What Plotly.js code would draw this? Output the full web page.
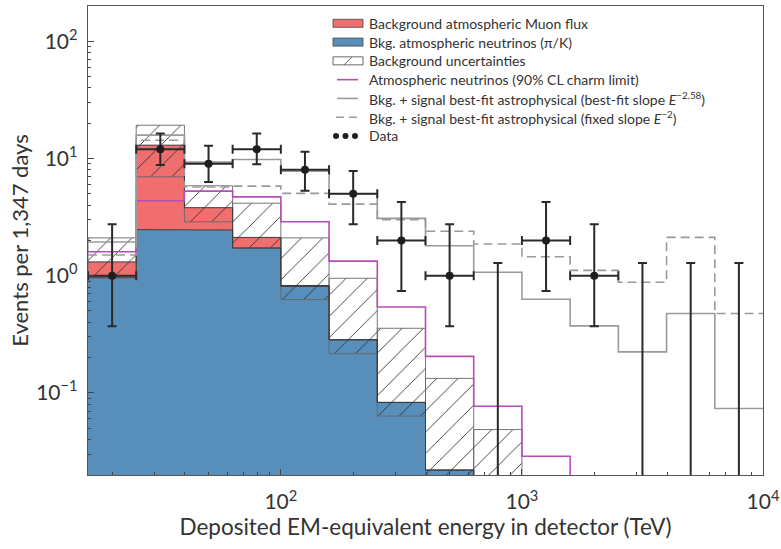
<!DOCTYPE html>
<html>
<head>
<meta charset="utf-8">
<script src="https://cdn.plot.ly/plotly-3.0.1.min.js"></script>
<style>
  html, body { margin: 0; padding: 0; background: #fff; }
  #chart { width: 781px; height: 549px; }
</style>
</head>
<body>
<div id="chart"></div>
<script>
// Energy bins, log10(E / TeV) edges
const logEdges = [1.2, 1.4, 1.6, 1.8, 2.0, 2.2, 2.4, 2.6, 2.8, 3.0, 3.2, 3.4, 3.6, 3.8, 4.0];

// Observed events per bin and their 68% confidence intervals
const observed = [1, 12, 9, 12, 8, 5, 2, 1, 0, 2, 1, 0, 0, 0];
const ciLow    = [0.37, 8.8, 6.3, 8.9, 5.3, 2.75, 0.74, 0.37, 0, 0.74, 0.37, 0, 0, 0];
const ciHigh   = [2.75, 16.3, 12.8, 16.3, 11.4, 7.8, 4.25, 2.75, 1.28, 4.25, 2.75, 1.28, 1.28, 1.28];

// Background expectations (events per bin)
const nuPiK  = [0.96, 2.47, 2.45, 1.72, 0.81, 0.284, 0.083, 0.022, null, null, null, null, null, null];
const muon   = [0.35, 10.5, 1.35, 0.40, 0.015, 0, 0, 0, 0, 0, 0, 0, 0, 0];
const uncLow  = [0.99, 6.97, 2.88, 1.73, 0.626, 0.216, 0.0635, 0.012, 0.006, null, null, null, null, null];
const uncHigh = [2.10, 19.2, 5.84, 4.15, 2.10, 0.95, 0.356, 0.133, 0.0487, null, null, null, null, null];

// Atmospheric neutrinos at the 90% CL charm limit
const charmLimit = [1.60, 4.35, 5.26, 4.70, 2.88, 1.33, 0.54, 0.205, 0.077, 0.0288, null, null, null, null];
// Background + astrophysical signal, best-fit slope E^-2.58
const fitBest  = [1.94, 15.8, 9.3, 9.8, 7.8, 5.0, 3.08, 1.80, 1.07, 0.63, 0.373, 0.224, 0.476, 0.0736];
// Background + astrophysical signal, fixed slope E^-2
const fitFixed = [1.50, 14.3, 5.7, 5.8, 5.03, 4.08, 3.0, 2.39, 1.86, 1.45, 1.11, 0.88, 2.12, 0.476];

const legendLabels = [
  'Background atmospheric Muon flux',
  'Bkg. atmospheric neutrinos (π/K)',
  'Background uncertainties',
  'Atmospheric neutrinos (90% CL charm limit)',
  'Bkg. + signal best-fit astrophysical (best-fit slope <i>E</i><sup>−2.58</sup>)',
  'Bkg. + signal best-fit astrophysical (fixed slope <i>E</i><sup>−2</sup>)',
  'Data'
];

// ---- styling ----
const FONT = 'Lato, "Open Sans", "DejaVu Sans", sans-serif';
const TEXT = '#333333';
const RED = '#F06E6E', BLUE = '#588EBA', PURPLE = '#B54DB8', GRAY = '#9A9A9A';
const EDGE = '#3a3a3a';

const W = 781, H = 549;
const M = {l: 88, r: 18, t: 6, b: 74};
const PW = W - M.l - M.r, PH = H - M.t - M.b;
const px = x => (x - M.l) / PW;
const py = y => (H - M.b - y) / PH;

const FLOOR = 1e-3; // below the visible y range, used to close fills

const edgesE = logEdges.map(l => Math.pow(10, l));
const centersE = logEdges.slice(0, -1).map((l, i) => Math.pow(10, (l + logEdges[i + 1]) / 2));

function stepPath(vals) {
  const xs = [], ys = [];
  vals.forEach((v, i) => {
    const val = (v == null || v <= 0) ? FLOOR : v;
    xs.push(edgesE[i], edgesE[i + 1]);
    ys.push(val, val);
  });
  return {x: xs, y: ys};
}
function bandPath(lower, upper) {
  const top = stepPath(upper), bot = stepPath(lower);
  return {x: top.x.concat(bot.x.slice().reverse()), y: top.y.concat(bot.y.slice().reverse())};
}

const total = nuPiK.map((v, i) => (v == null ? null : v + muon[i]));
const floorArr = nuPiK.map(() => FLOOR);

const traces = [];

// neutrino background fill
const bluePath = bandPath(floorArr, nuPiK);
traces.push({x: bluePath.x, y: bluePath.y, mode: 'lines', fill: 'toself',
  fillcolor: BLUE, line: {width: 0}, hoverinfo: 'skip', showlegend: false});

// muon background fill stacked on the neutrinos
const redPath = bandPath(nuPiK, total);
traces.push({x: redPath.x, y: redPath.y, mode: 'lines', fill: 'toself',
  fillcolor: RED, line: {width: 0}, hoverinfo: 'skip', showlegend: false});

// background uncertainty boxes, hatched
const hx = [], hy = [];
uncLow.forEach((lo, i) => {
  const hi = uncHigh[i];
  if (hi == null) return;
  const a = edgesE[i], b = edgesE[i + 1];
  hx.push(a, b, b, a, a, null);
  hy.push(lo, lo, hi, hi, lo, null);
});
traces.push({x: hx, y: hy, mode: 'lines', fill: 'toself',
  fillcolor: 'rgba(0,0,0,0)',
  fillpattern: {shape: '/', fgcolor: '#333', bgcolor: 'rgba(0,0,0,0)', size: 15, solidity: 0.06, fillmode: 'replace'},
  line: {color: '#666', width: 0.9}, hoverinfo: 'skip', showlegend: false});

// outlines of the stacked background
const blueTop = stepPath(nuPiK);
traces.push({x: blueTop.x, y: blueTop.y, mode: 'lines', line: {color: EDGE, width: 1}, hoverinfo: 'skip', showlegend: false});
const redTop = stepPath(total);
traces.push({x: redTop.x, y: redTop.y, mode: 'lines', line: {color: EDGE, width: 1}, hoverinfo: 'skip', showlegend: false});

// charm limit
const charm = stepPath(charmLimit);
traces.push({x: charm.x, y: charm.y, mode: 'lines', line: {color: PURPLE, width: 1.6}, hoverinfo: 'skip', showlegend: false});

// best-fit models
const best = stepPath(fitBest);
traces.push({x: best.x, y: best.y, mode: 'lines', line: {color: GRAY, width: 1.6}, hoverinfo: 'skip', showlegend: false});
const fixed = stepPath(fitFixed);
traces.push({x: fixed.x, y: fixed.y, mode: 'lines', line: {color: GRAY, width: 1.6, dash: '9px,5px'}, hoverinfo: 'skip', showlegend: false});

// data with counts
const dx = [], dy = [], eyP = [], eyM = [], exP = [], exM = [];
// empty bins: upper limits only
const ux = [], uy = [], uyM = [];
observed.forEach((n, i) => {
  if (n > 0) {
    dx.push(centersE[i]); dy.push(n);
    eyP.push(ciHigh[i] - n); eyM.push(n - ciLow[i]);
    exP.push(edgesE[i + 1] - centersE[i]); exM.push(centersE[i] - edgesE[i]);
  } else {
    ux.push(centersE[i]); uy.push(ciHigh[i]); uyM.push(ciHigh[i]);
  }
});
const ERR = '#2a2a2a';
traces.push({x: ux, y: uy, mode: 'markers', marker: {size: 2, color: 'rgba(0,0,0,0)'},
  error_y: {type: 'data', symmetric: false, array: uy.map(() => 0), arrayminus: uyM, color: ERR, thickness: 2, width: 4.5},
  hoverinfo: 'skip', showlegend: false});
traces.push({x: dx, y: dy, mode: 'markers', marker: {size: 8, color: '#1e1e1e'},
  error_y: {type: 'data', symmetric: false, array: eyP, arrayminus: eyM, color: ERR, thickness: 2, width: 4.5},
  error_x: {type: 'data', symmetric: false, array: exP, arrayminus: exM, color: ERR, thickness: 2, width: 4.5},
  hoverinfo: 'skip', showlegend: false});

// ---- ticks ----
function minorVals(lo, hi) {
  const out = [];
  for (let d = -3; d <= 5; d++) {
    for (let k = 2; k <= 9; k++) {
      const v = k * Math.pow(10, d);
      if (v > lo && v < hi) out.push(v);
    }
  }
  return out;
}

// ---- legend drawn with shapes and text ----
const rowY = legendLabels.map((_, i) => 23.3 + 18.78 * i);
const SX0 = 333, SX1 = 363, TX = 367;
const shapes = [];
const annotations = [];
function rect(y, fill) {
  shapes.push({type: 'rect', xref: 'paper', yref: 'paper', x0: px(SX0), x1: px(SX1),
    y0: py(y + 4), y1: py(y - 4), fillcolor: fill, line: {color: '#444', width: 0.8}});
}
rect(rowY[0], RED);
rect(rowY[1], BLUE);
rect(rowY[2], '#ffffff');
shapes.push({type: 'line', xref: 'paper', yref: 'paper', x0: px(344), x1: px(352),
  y0: py(rowY[2] + 4), y1: py(rowY[2] - 4), line: {color: '#444', width: 0.8}});
shapes.push({type: 'line', xref: 'paper', yref: 'paper', x0: px(337), x1: px(358),
  y0: py(rowY[3]), y1: py(rowY[3]), line: {color: PURPLE, width: 1.6}});
shapes.push({type: 'line', xref: 'paper', yref: 'paper', x0: px(337), x1: px(358),
  y0: py(rowY[4]), y1: py(rowY[4]), line: {color: GRAY, width: 1.6}});
shapes.push({type: 'line', xref: 'paper', yref: 'paper', x0: px(336), x1: px(360),
  y0: py(rowY[5]), y1: py(rowY[5]), line: {color: GRAY, width: 1.6, dash: '8px,5px'}});
[336, 345.5, 355].forEach(cx => {
  shapes.push({type: 'circle', xref: 'paper', yref: 'paper', x0: px(cx - 3), x1: px(cx + 3),
    y0: py(rowY[6] + 3), y1: py(rowY[6] - 3), fillcolor: '#1e1e1e', line: {width: 0}});
});
legendLabels.forEach((t, i) => {
  annotations.push({text: t, xref: 'paper', yref: 'paper', x: px(TX), y: py(rowY[i]),
    xanchor: 'left', yanchor: 'middle', showarrow: false,
    font: {family: FONT, size: 14, color: TEXT}});
});

const layout = {
  width: W, height: H,
  margin: M,
  paper_bgcolor: '#ffffff', plot_bgcolor: '#ffffff',
  font: {family: FONT, color: TEXT, size: 21},
  showlegend: false,
  xaxis: {
    type: 'log', range: [1.2, 4.0],
    tickmode: 'array', tickvals: [100, 1000, 10000],
    ticktext: ['10<sup>2</sup>', '10<sup>3</sup>', '10<sup>4</sup>'],
    ticks: 'inside', ticklen: 6, tickwidth: 1, tickcolor: '#444',
    minor: {tickmode: 'array', tickvals: minorVals(Math.pow(10, 1.2), 1e4), ticks: 'inside', ticklen: 3, tickcolor: '#444', tickwidth: 1, showgrid: false},
    showgrid: false, zeroline: false,
    showline: true, mirror: true, linecolor: '#555', linewidth: 1.2,
    tickfont: {family: FONT, size: 21, color: TEXT},
    ticklabelstandoff: 8,
    title: {text: 'Deposited EM-equivalent energy in detector (TeV)', font: {family: FONT, size: 22.5, color: TEXT}, standoff: 6}
  },
  yaxis: {
    type: 'log', range: [-1.7, 2.3],
    tickmode: 'array', tickvals: [0.1, 1, 10, 100],
    ticktext: ['10<sup>−1</sup>', '10<sup>0</sup>', '10<sup>1</sup>', '10<sup>2</sup>'],
    ticks: 'inside', ticklen: 6, tickwidth: 1, tickcolor: '#444',
    minor: {tickmode: 'array', tickvals: minorVals(Math.pow(10, -1.7), Math.pow(10, 2.3)), ticks: 'inside', ticklen: 3, tickcolor: '#444', tickwidth: 1, showgrid: false},
    showgrid: false, zeroline: false,
    showline: true, mirror: true, linecolor: '#555', linewidth: 1.2,
    tickfont: {family: FONT, size: 21, color: TEXT},
    ticklabelstandoff: 5,
    title: {text: 'Events per 1,347 days', font: {family: FONT, size: 22, color: TEXT}, standoff: 1}
  },
  shapes: shapes,
  annotations: annotations
};

Plotly.newPlot('chart', traces, layout, {staticPlot: true, displayModeBar: false});
</script>
</body>
</html>
